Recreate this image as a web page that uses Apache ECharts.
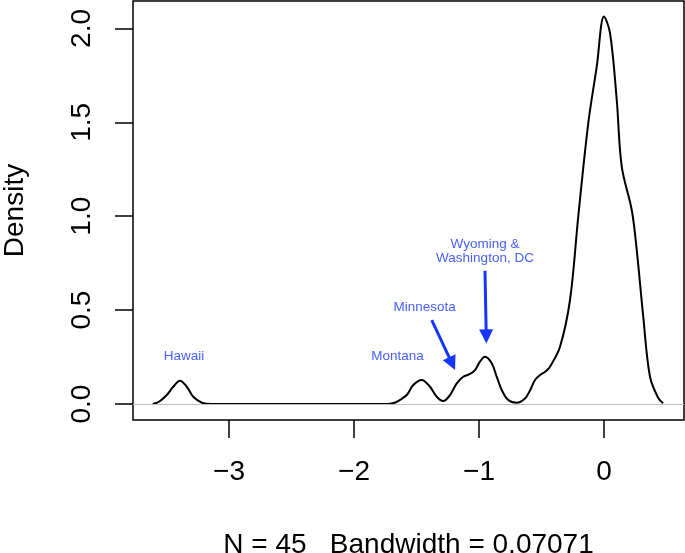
<!DOCTYPE html>
<html>
<head>
<meta charset="utf-8">
<script src="https://cdn.jsdelivr.net/npm/echarts@6/dist/echarts.min.js"></script>
<style>
  html, body { margin: 0; padding: 0; background: #fff; }
  #main { width: 685px; height: 553px; }
</style>
</head>
<body>
<div id="main"></div>
<script>
// kernel density estimate
var densX = [-3.61, -3.56, -3.498, -3.446, -3.392, -3.338, -3.286, -3.218, -3.178, -3.00,
             -2.50, -2.00, -1.75, -1.70, -1.658, -1.578, -1.526, -1.458, -1.392, -1.338,
             -1.286, -1.232, -1.178, -1.126, -1.072, -1.032, -0.99, -0.952, -0.898, -0.858,
             -0.818, -0.766, -0.698, -0.632, -0.592, -0.552, -0.512, -0.47, -0.432, -0.352,
             -0.272, -0.206, -0.126, -0.058, 0.0, 0.048, 0.102, 0.142, 0.222, 0.262,
             0.314, 0.368, 0.434, 0.474];
var densY = [0.000, 0.012, 0.048, 0.092, 0.124, 0.092, 0.039, 0.007, 0.002, 0.000,
             0.000, 0.000, 0.000, 0.003, 0.012, 0.048, 0.101, 0.128, 0.092, 0.039,
             0.016, 0.048, 0.110, 0.145, 0.160, 0.181, 0.228, 0.252, 0.217, 0.145,
             0.075, 0.021, 0.007, 0.030, 0.072, 0.128, 0.154, 0.172, 0.199, 0.305,
             0.554, 0.998, 1.495, 1.797, 2.063, 1.976, 1.619, 1.264, 1.033, 0.820,
             0.465, 0.145, 0.032, 0.004];

var xTicks = [-3, -2, -1, 0];
var yTicks = [0, 0.5, 1, 1.5, 2];

// annotations: text and where it sits
var noteText = ['Hawaii', 'Montana', 'Minnesota', 'Wyoming &\nWashington, DC'];
var noteX = [-3.36, -1.652, -1.435, -0.952];
var noteY = [0.255, 0.255, 0.516, 0.815];

// arrows: start and end in data units
var arrowFrom = [[-1.378, 0.447], [-0.952, 0.71]];
var arrowTo = [[-1.215, 0.215], [-0.942, 0.36]];

var blue = '#1536ff';
var font = 'Liberation Sans, Arial, Helvetica, sans-serif';

var chart = echarts.init(document.getElementById('main'));

var curve = densX.map(function (x, i) { return [x, densY[i]]; });
var notes = noteText.map(function (t, i) { return [noteX[i], noteY[i], t]; });
var arrows = arrowFrom.map(function (a, i) {
    return [{ coord: a }, { coord: arrowTo[i] }];
});

var option = {
    animation: false,
    backgroundColor: '#fff',
    textStyle: { fontFamily: font },
    grid: {
        left: 133, right: 1, top: 1, bottom: 133,
        outerBoundsMode: 'none',
        containLabel: false,
        show: true,
        borderColor: '#000',
        borderWidth: 1.5
    },
    xAxis: {
        type: 'value',
        min: -3.768,
        max: 0.64,
        name: 'N = 45   Bandwidth = 0.07071',
        nameLocation: 'middle',
        nameGap: 111,
        nameTextStyle: { color: '#000', fontSize: 28, fontFamily: font },
        axisLine: { show: false, onZero: false },
        splitLine: { show: false },
        axisTick: {
            show: true, length: 18, inside: false,
            customValues: xTicks,
            lineStyle: { color: '#000', width: 1.5 }
        },
        axisLabel: {
            customValues: xTicks,
            margin: 38,
            fontSize: 28,
            color: '#000',
            fontFamily: font,
            formatter: function (v) { return String(v).replace('-', '\u2212'); }
        }
    },
    yAxis: {
        type: 'value',
        min: -0.085,
        max: 2.146,
        name: 'Density',
        nameLocation: 'middle',
        nameGap: 104,
        nameTextStyle: { color: '#000', fontSize: 28, fontFamily: font },
        axisLine: { show: false, onZero: false },
        splitLine: { show: false },
        axisTick: {
            show: true, length: 18, inside: false,
            customValues: yTicks,
            lineStyle: { color: '#000', width: 1.5 }
        },
        axisLabel: {
            customValues: yTicks,
            rotate: 90,
            margin: 37,
            fontSize: 28,
            color: '#000',
            fontFamily: font,
            formatter: function (v) { return v.toFixed(1); }
        }
    },
    series: [
        {
            name: 'density',
            type: 'line',
            data: curve,
            smooth: 0.35,
            showSymbol: false,
            symbol: 'none',
            lineStyle: { color: '#000', width: 2 },
            markLine: {
                silent: true,
                symbol: ['none', 'none'],
                label: { show: false },
                lineStyle: { color: '#bebebe', width: 1, type: 'solid' },
                data: [{ yAxis: 0 }]
            },
            z: 3
        },
        {
            name: 'notes',
            type: 'scatter',
            data: notes,
            symbolSize: 0,
            label: {
                show: true,
                position: 'inside',
                formatter: function (p) { return p.data[2]; },
                color: blue,
                fontSize: 13.5,
                lineHeight: 14,
                align: 'center',
                fontFamily: font
            },
            markLine: {
                silent: true,
                symbol: ['none', 'triangle'],
                symbolSize: 14,
                label: { show: false },
                lineStyle: { color: blue, width: 3, type: 'solid' },
                itemStyle: { color: blue },
                data: arrows
            },
            z: 4
        }
    ]
};

chart.setOption(option);
</script>
</body>
</html>
